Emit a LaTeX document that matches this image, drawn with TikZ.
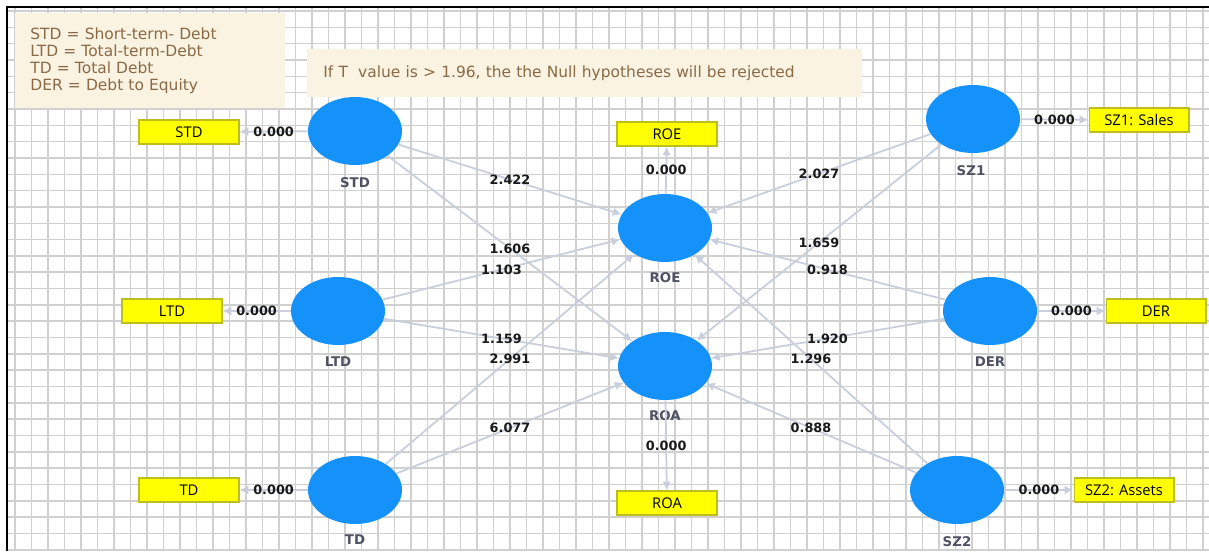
\documentclass[tikz,border=0pt]{standalone}
\usepackage{fontspec}
\setmainfont{Open Sans}
\newfontfamily\numfont{DejaVu Sans}
\usetikzlibrary{shapes.geometric,arrows.meta}

\definecolor{gridgray}{HTML}{D0D0D0}
\definecolor{arrowgray}{HTML}{C8CEDB}
\definecolor{latentblue}{HTML}{1592FA}
\definecolor{boxyellow}{HTML}{FFFF00}
\definecolor{boxborder}{HTML}{BDBD1E}
\definecolor{notefill}{HTML}{FBF3E2}
\definecolor{notetext}{HTML}{8A6A45}
\definecolor{capgray}{HTML}{4E5262}

\tikzset{
  latent/.style={ellipse, fill=latentblue, minimum width=1.88cm, minimum height=1.36cm, inner sep=0pt},
  indicator/.style={rectangle, fill=boxyellow, draw=boxborder, line width=0.6pt,
    minimum width=2cm, minimum height=0.48cm, inner sep=0pt, font=\fontsize{8.4}{9}\selectfont},
  latcap/.style={text=capgray, inner sep=0pt, font=\numfont\bfseries\fontsize{7.6}{8}\selectfont},
  coef/.style={inner sep=0pt, text=black!90, font=\numfont\bfseries\fontsize{7.3}{8}\selectfont},
  path/.style={draw=arrowgray, line width=1pt, -{Latex[length=5pt,width=5pt]}},
  note/.style={rectangle, fill=notefill, text=notetext, align=left, anchor=north west,
    font=\numfont\fontsize{8.8}{9.6}\selectfont},
  gridline/.style={draw=gridgray, line width=0.9pt}
}

\begin{document}
\begin{tikzpicture}[x=0.02cm, y=-0.02cm]
    \useasboundingbox (0,0) rectangle (1209,551);
    \fill[white] (0,0) rectangle (1209,551);

    % background grid
    \foreach \gx in {15,31.5,...,1209} \draw[gridline] (\gx,7) -- (\gx,551);
    \foreach \gy in {11,27.33,...,551} \draw[gridline] (7,\gy) -- (1209,\gy);
    \draw[line width=1.7pt] (7,551) -- (7,7) -- (1209,7);

    % notes
    \node[note, minimum width=5.4cm, minimum height=1.9cm, text width=4.8cm, inner xsep=0.3cm] (legend) at (15,13)
        {STD = Short-term- Debt\\LTD = Total-term-Debt\\TD = Total Debt\\DER = Debt to Equity};
    \node[note, minimum width=11.1cm, minimum height=0.96cm, text width=10.46cm, inner xsep=0.32cm] (rule) at (307,49)
        {If T\ \ value is > 1.96, the the Null hypotheses will be rejected};

    % latent variables
    \node[latent] (std) at (355,131) {};
    \node[latent] (ltd) at (338,311) {};
    \node[latent] (td)  at (355,490) {};
    \node[latent] (roe) at (665,228) {};
    \node[latent] (roa) at (665,366) {};
    \node[latent] (sz1) at (973,119) {};
    \node[latent] (der) at (990,311) {};
    \node[latent] (sz2) at (957,490) {};

    \node[latcap] (stdcap) at (355,183) {STD};
    \node[latcap] (ltdcap) at (338,362) {LTD};
    \node[latcap] (tdcap)  at (355,540) {TD};
    \node[latcap] (roecap) at (665,278) {ROE};
    \node[latcap] (roacap) at (665,416) {ROA};
    \node[latcap] (sz1cap) at (971,171) {SZ1};
    \node[latcap] (dercap) at (990,362) {DER};
    \node[latcap] (sz2cap) at (957,542) {SZ2};

    % indicators
    \node[indicator] (stdbox) at (189,132) {STD};
    \node[indicator] (ltdbox) at (172,311) {LTD};
    \node[indicator] (tdbox)  at (189,490) {TD};
    \node[indicator] (roebox) at (667,134) {ROE};
    \node[indicator] (roabox) at (667,503) {ROA};
    \node[indicator] (sz1box) at (1139,120) {SZ1: Sales};
    \node[indicator] (derbox) at (1156,311) {DER};
    \node[indicator] (sz2box) at (1124,490) {SZ2: Assets};

    % loadings
    \draw[path] (std) -- node[coef] {0.000} (stdbox);
    \draw[path] (ltd) -- node[coef] {0.000} (ltdbox);
    \draw[path] (td)  -- node[coef] {0.000} (tdbox);
    \draw[path] (roe) -- node[coef] {0.000} (roebox);
    \draw[path] (roa) -- node[coef] {0.000} (roabox);
    \draw[path] (sz1) -- node[coef] {0.000} (sz1box);
    \draw[path] (der) -- node[coef] {0.000} (derbox);
    \draw[path] (sz2) -- node[coef] {0.000} (sz2box);

    % structural paths
    \draw[path] (std) -- node[coef] {2.422} (roe);
    \draw[path] (std) -- node[coef] {1.606} (roa);
    \draw[path] (ltd) -- node[coef] {1.103} (roe);
    \draw[path] (ltd) -- node[coef] {1.159} (roa);
    \draw[path] (td)  -- node[coef] {2.991} (roe);
    \draw[path] (td)  -- node[coef] {6.077} (roa);
    \draw[path] (sz1) -- node[coef] {2.027} (roe);
    \draw[path] (sz1) -- node[coef] {1.659} (roa);
    \draw[path] (der) -- node[coef] {0.918} (roe);
    \draw[path] (der) -- node[coef] {1.920} (roa);
    \draw[path] (sz2) -- node[coef] {1.296} (roe);
    \draw[path] (sz2) -- node[coef] {0.888} (roa);
\end{tikzpicture}
\end{document}
